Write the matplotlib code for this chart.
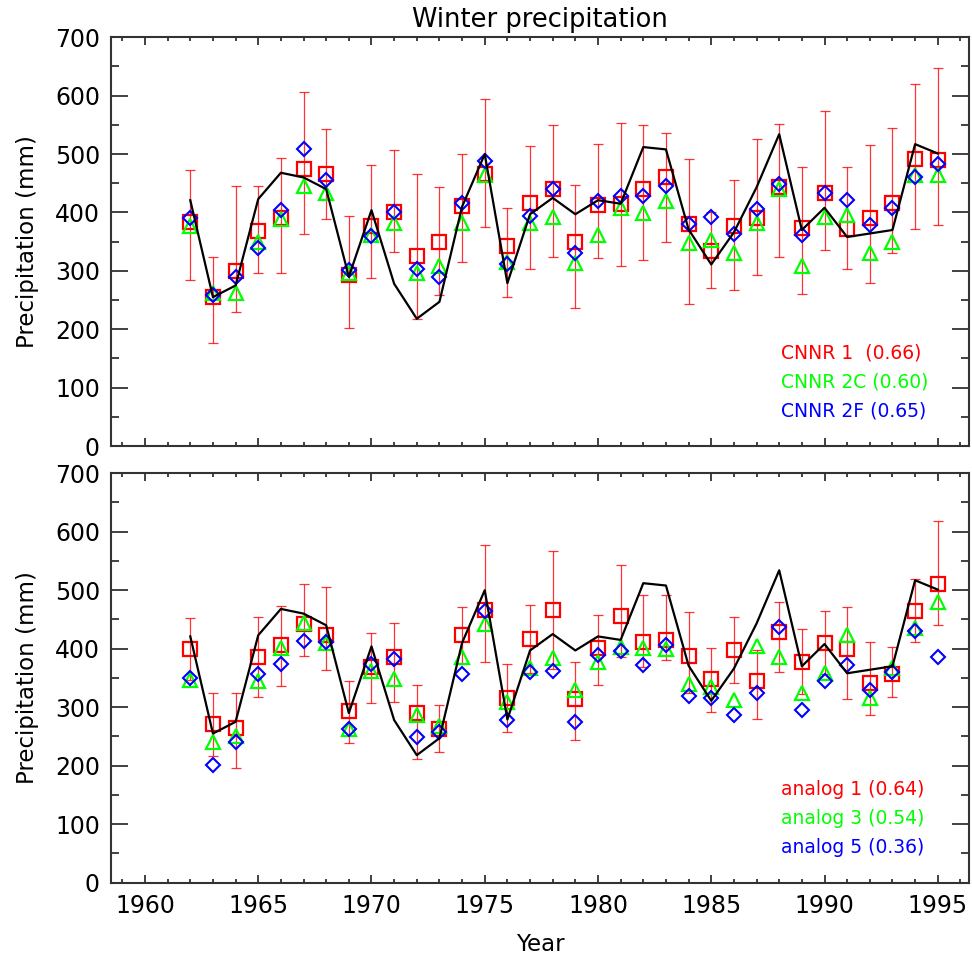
import numpy as np
import matplotlib
matplotlib.use('Agg')
import matplotlib.pyplot as plt
from matplotlib.ticker import MultipleLocator

# =============================================================================
# data
# =============================================================================
years = list(range(1962, 1996))

observed = [421, 255, 275, 423, 468, 460, 440, 290, 404, 278, 218, 247, 410, 500, 279,
            397, 425, 397, 421, 415, 512, 508, 371, 311, 366, 443, 534, 370, 408, 358,
            364, 370, 517, 501]

# top panel
cnnr1 = [384, 255, 300, 368, 390, 474, 466, 293, 377, 401, 325, 350, 411, 466, 343,
         416, 440, 349, 413, 414, 441, 461, 380, 334, 377, 391, 444, 374, 434, 372,
         390, 417, 492, 490]
cnnr1_hi = [472, 324, 445, 445, 493, 606, 543, 394, 481, 507, 466, 443, 500, 595, 408,
            513, 549, 447, 517, 553, 549, 536, 492, 400, 455, 525, 551, 478, 573, 478,
            516, 544, 620, 648]
cnnr1_lo = [284, 177, 230, 296, 296, 364, 388, 202, 288, 332, 217, 259, 315, 375, 255,
            303, 323, 236, 322, 308, 319, 350, 244, 270, 267, 293, 324, 261, 335, 304,
            280, 331, 372, 379]
cnnr2c = [376, 262, 262, 350, 388, 445, 433, 296, 362, 382, 296, 308, 382, 464, 316,
          382, 393, 313, 362, 408, 399, 419, 347, 353, 331, 382, 440, 308, 393, 396,
          330, 350, 464, 464]
cnnr2f = [390, 259, 290, 340, 405, 509, 455, 302, 360, 401, 303, 290, 417, 488, 312,
          394, 440, 330, 420, 429, 429, 446, 380, 393, 364, 406, 448, 361, 433, 421,
          379, 407, 461, 483]

# bottom panel
analog1 = [399, 271, 265, 386, 406, 443, 423, 294, 368, 385, 290, 262, 423, 466, 315,
           417, 466, 314, 401, 456, 411, 415, 388, 349, 398, 345, 429, 378, 410, 399,
           341, 357, 465, 510]
analog1_hi = [452, 324, 325, 454, 473, 511, 506, 344, 426, 444, 338, 304, 472, 578, 373,
              474, 567, 377, 458, 543, 492, 491, 463, 401, 454, 398, 480, 433, 465, 471,
              412, 403, 520, 618]
analog1_lo = [347, 217, 196, 318, 337, 387, 363, 238, 308, 309, 212, 224, 374, 377, 257,
              358, 366, 244, 338, 386, 369, 381, 324, 291, 341, 280, 360, 323, 356, 314,
              287, 317, 412, 441]
analog3 = [347, 241, 250, 345, 402, 444, 409, 262, 362, 348, 287, 267, 386, 443, 309,
           367, 384, 329, 377, 403, 401, 399, 339, 335, 312, 405, 386, 325, 358, 423,
           315, 367, 435, 479]
analog5 = [350, 202, 241, 356, 373, 414, 411, 262, 374, 382, 249, 258, 357, 464, 278,
           361, 362, 275, 390, 396, 372, 406, 319, 315, 286, 325, 437, 295, 345, 372,
           329, 360, 430, 386]

top_labels = ['CNNR 1  (0.66)', 'CNNR 2C (0.60)', 'CNNR 2F (0.65)']
bottom_labels = ['analog 1 (0.64)', 'analog 3 (0.54)', 'analog 5 (0.36)']

RED, GREEN, BLUE = '#ff0000', '#00ff00', '#0000ff'
AXCOL = '#333333'

fig = plt.figure(figsize=(9.72, 9.56), dpi=100)
ax1 = fig.add_axes([0.1142, 0.5334, 0.8832, 0.4276])
ax2 = fig.add_axes([0.1142, 0.0767, 0.8832, 0.4283])


def panel(ax, main, hi, lo, tri, dia, labels):
    yerr = [np.array(main) - np.array(lo), np.array(hi) - np.array(main)]
    ax.errorbar(years, main, yerr=yerr, fmt='none', ecolor=RED, elinewidth=0.9,
                capsize=3.8, capthick=0.9, alpha=0.8, zorder=2)
    ax.plot(years, main, 's', ms=10, mfc='none', mec=RED, mew=1.6, zorder=3)
    ax.plot(years, tri, '^', ms=10.5, mfc='none', mec=GREEN, mew=1.6, zorder=4)
    ax.plot(years, dia, 'D', ms=7.3, mfc='none', mec=BLUE, mew=1.5, zorder=5)
    ax.plot(years, observed, '-', color='black', lw=1.6, zorder=6)

    ax.set_xlim(1958.5, 1996.4)
    ax.set_ylim(0, 700)
    ax.xaxis.set_major_locator(MultipleLocator(5))
    ax.xaxis.set_minor_locator(MultipleLocator(1))
    ax.yaxis.set_major_locator(MultipleLocator(100))
    ax.yaxis.set_minor_locator(MultipleLocator(50))
    ax.tick_params(axis='both', which='both', direction='in', top=True, right=True,
                   color=AXCOL, width=1.3, labelsize=17, pad=8)
    ax.tick_params(axis='y', which='major', length=12)
    ax.tick_params(axis='y', which='minor', length=6)
    ax.tick_params(axis='x', which='major', length=6)
    ax.tick_params(axis='x', which='minor', length=3)
    for s in ax.spines.values():
        s.set_color(AXCOL)
        s.set_linewidth(1.5)
    ax.set_ylabel('Precipitation (mm)', fontsize=16.5, labelpad=11)

    for lab, col, yy in zip(labels, [RED, GREEN, BLUE], [0.228, 0.157, 0.087]):
        ax.text(0.78, yy, lab, color=col, fontsize=13.5, transform=ax.transAxes,
                ha='left', va='center')


panel(ax1, cnnr1, cnnr1_hi, cnnr1_lo, cnnr2c, cnnr2f, top_labels)
panel(ax2, analog1, analog1_hi, analog1_lo, analog3, analog5, bottom_labels)

ax1.tick_params(axis='x', labelbottom=False)
ax1.set_title('Winter precipitation', fontsize=18.5, pad=7.5)
ax2.set_xlabel('Year', fontsize=16.5, labelpad=11)

fig.savefig('out.png', dpi=100)
